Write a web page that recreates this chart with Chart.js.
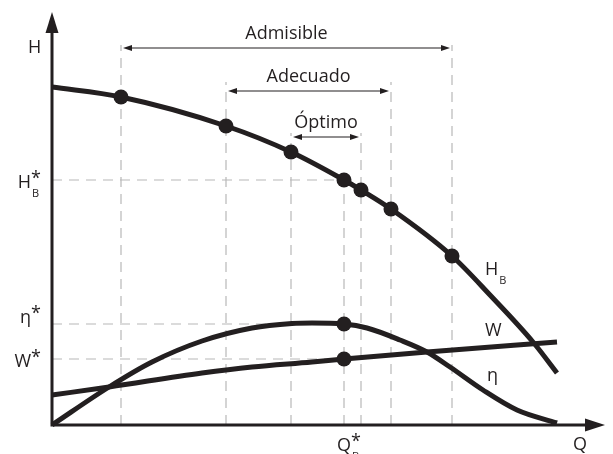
<!DOCTYPE html>
<html>
<head>
<meta charset="utf-8">
<script src="https://cdn.jsdelivr.net/npm/chart.js@4.4.1/dist/chart.umd.min.js"></script>
<style>
  html, body { margin: 0; padding: 0; background: #fff; }
  #wrap { width: 613px; height: 454px; }
</style>
</head>
<body>
<div id="wrap"><canvas id="pumpChart"></canvas></div>
<script>
// Q along the flow axis, values up the H axis (sketch units)
const headQ = [0, 69, 174, 239, 292, 309, 339, 400, 438, 481, 505];
const headH = [338, 328, 299, 273, 245, 235, 216, 169, 130, 83, 52];
const headMarked = [0, 1, 1, 1, 1, 1, 1, 1, 0, 0, 0];

const effQ = [0, 57, 100, 150, 200, 240, 260, 292, 315, 348, 375, 398, 431, 465, 505];
const effV = [0, 38, 63, 84, 97, 101.5, 102, 101, 97, 85, 73, 58, 35, 15, 2];
const effMarked = [0, 0, 0, 0, 0, 0, 0, 1, 0, 0, 0, 0, 0, 0, 0];

const powerQ = [0, 57, 150, 200, 260, 292, 375, 505];
const powerW = [30, 38, 52, 58, 63, 66, 73, 83];
const powerMarked = [0, 0, 0, 0, 0, 1, 0, 0];

// dashed guides
const guideQ = [69, 174, 239, 292, 309, 339, 400];
const guideTop = [380, 343, 292, 245, 292, 343, 380];
const qStar = 292;
const refValues = [245, 101, 66];

// operating ranges
const rangeNames = ["Admisible", "Adecuado", "Óptimo"];
const rangeFrom = [69, 174, 239];
const rangeTo = [400, 339, 309];
const rangeLevel = [377, 334, 288];

const ink = "#231f20";
const guideColor = "#b8b8b8";
const fontFam = '"Open Sans", sans-serif';

function pts(xs, ys) {
  return xs.map((q, i) => ({ x: q, y: ys[i] }));
}

function curve(xs, ys, marked) {
  return {
    data: pts(xs, ys),
    borderColor: ink,
    backgroundColor: ink,
    borderWidth: 5,
    pointRadius: marked.map(m => (m ? 7.5 : 0)),
    pointBackgroundColor: ink,
    pointBorderWidth: 0,
    cubicInterpolationMode: "monotone",
    showLine: true,
    clip: false,
    order: 1
  };
}

function dashed(data) {
  return {
    data: data,
    borderColor: guideColor,
    borderWidth: 1.2,
    borderDash: [10, 7],
    pointRadius: 0,
    showLine: true,
    clip: false,
    order: 5
  };
}

const datasets = [
  curve(headQ, headH, headMarked),
  curve(effQ, effV, effMarked),
  curve(powerQ, powerW, powerMarked)
];
guideQ.forEach((q, i) => datasets.push(dashed([{ x: q, y: 0 }, { x: q, y: guideTop[i] }])));
refValues.forEach(v => datasets.push(dashed([{ x: 0, y: v }, { x: qStar, y: v }])));

function arrowHead(ctx, tipX, tipY, dx, dy, len, half) {
  const bx = tipX - dx * len, by = tipY - dy * len;
  ctx.beginPath();
  ctx.moveTo(tipX, tipY);
  ctx.lineTo(bx - dy * half, by + dx * half);
  ctx.lineTo(bx + dy * half, by - dx * half);
  ctx.closePath();
  ctx.fill();
}

// letter with optional raised asterisk and subscript
function symbolWidth(ctx, main, sup, sub, size) {
  ctx.font = size + "px " + fontFam;
  const w = ctx.measureText(main).width;
  let extra = 0;
  if (sup) extra = Math.max(extra, ctx.measureText(sup).width);
  if (sub) {
    ctx.font = Math.round(size * 0.62) + "px " + fontFam;
    extra = Math.max(extra, ctx.measureText(sub).width + 1);
  }
  return w + extra;
}

function symbol(ctx, x, base, main, sup, sub, size) {
  ctx.font = size + "px " + fontFam;
  ctx.textAlign = "left";
  ctx.textBaseline = "alphabetic";
  ctx.fillText(main, x, base);
  const w = ctx.measureText(main).width;
  if (sup) ctx.fillText(sup, x + w, base - 4);
  if (sub) {
    ctx.font = Math.round(size * 0.62) + "px " + fontFam;
    ctx.fillText(sub, x + w + 1, base + 9);
  }
}

const sketchDecor = {
  id: "sketchDecor",
  afterDatasetsDraw(chart) {
    const { ctx, chartArea: a, scales: { x, y } } = chart;
    ctx.save();
    ctx.strokeStyle = ink;
    ctx.fillStyle = ink;

    // axes with arrows
    ctx.lineWidth = 3;
    ctx.beginPath();
    ctx.moveTo(a.left, a.top + 16);
    ctx.lineTo(a.left, a.bottom);
    ctx.lineTo(a.right - 16, a.bottom);
    ctx.stroke();
    arrowHead(ctx, a.left, a.top, 0, -1, 21, 6.5);
    arrowHead(ctx, a.right, a.bottom, 1, 0, 20, 6.5);

    // range arrows
    ctx.lineWidth = 1.2;
    rangeNames.forEach((name, i) => {
      const x0 = x.getPixelForValue(rangeFrom[i]) + 2;
      const x1 = x.getPixelForValue(rangeTo[i]) - 2;
      const yy = y.getPixelForValue(rangeLevel[i]);
      ctx.beginPath();
      ctx.moveTo(x0 + 4, yy);
      ctx.lineTo(x1 - 4, yy);
      ctx.stroke();
      arrowHead(ctx, x0, yy, -1, 0, 9, 3);
      arrowHead(ctx, x1, yy, 1, 0, 9, 3);
      ctx.font = "18px " + fontFam;
      ctx.textAlign = "center";
      ctx.textBaseline = "alphabetic";
      ctx.fillText(name, (x0 + x1) / 2, yy - 9);
    });

    // axis titles
    const size = 18;
    symbol(ctx, a.left - 24, a.top + 41, "H", null, null, size);
    symbol(ctx, 573, a.bottom + 25, "Q", null, null, size);

    // starred reference labels on the H axis
    const refLab = [["H", "*", "B", 8], ["η", "*", null, -1], ["W", "*", null, 8]];
    refLab.forEach((r, i) => {
      const w = symbolWidth(ctx, r[0], r[1], r[2], size);
      symbol(ctx, a.left - 11 - w, y.getPixelForValue(refValues[i]) + r[3], r[0], r[1], r[2], size);
    });
    symbol(ctx, x.getPixelForValue(qStar) - 7, a.bottom + 26, "Q", "*", "B", size);

    // curve names
    symbol(ctx, 485, 275, "H", null, "B", size);
    symbol(ctx, 485, 336, "W", null, null, size);
    symbol(ctx, 487, 381, "η", null, null, size);

    ctx.restore();
  }
};

new Chart(document.getElementById("pumpChart"), {
  type: "scatter",
  data: { datasets: datasets },
  options: {
    responsive: true,
    maintainAspectRatio: false,
    animation: false,
    layout: { padding: { left: 52, right: 8, top: 12, bottom: 29 } },
    plugins: { legend: { display: false }, tooltip: { enabled: false } },
    scales: {
      x: { type: "linear", min: 0, max: 553, display: false },
      y: { type: "linear", min: 0, max: 413, display: false }
    }
  },
  plugins: [sketchDecor]
});
</script>
</body>
</html>
